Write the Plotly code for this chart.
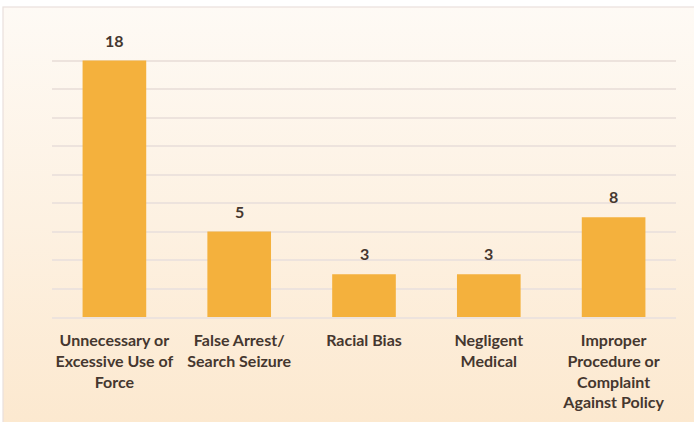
import base64
import plotly.graph_objects as go

categories = [
    "Unnecessary or<br>Excessive Use of<br>Force",
    "False Arrest/<br>Search Seizure",
    "Racial Bias",
    "Negligent<br>Medical",
    "Improper<br>Procedure or<br>Complaint<br>Against Policy",
]
bar_heights = [18, 6, 3, 3, 7]
data_labels = ["18", "5", "3", "3", "8"]
y_ticks = [0, 2, 4, 6, 8, 10, 12, 14, 16, 18, 20]

W, H = 694, 422
ml, mr, mt, mb = 52, 18, 32, 105
pw, ph = W - ml - mr, H - mt - mb
TXT = "#45372F"

svg = f'''<svg xmlns="http://www.w3.org/2000/svg" width="{W}" height="{H}" viewBox="0 0 {W} {H}">
<defs><linearGradient id="g" x1="0" y1="0" x2="0" y2="1">
<stop offset="0" stop-color="#FEFAF5"/><stop offset="1" stop-color="#FCE8CE"/></linearGradient></defs>
<rect x="0" y="0" width="{W}" height="{H}" fill="#FFFFFF"/>
<rect x="3" y="7" width="{W+10}" height="{H+10}" fill="url(#g)" stroke="#E9E0DC" stroke-width="1.2"/>
</svg>'''
src = "data:image/svg+xml;base64," + base64.b64encode(svg.encode()).decode()

fig = go.Figure(
    go.Bar(
        x=categories,
        y=bar_heights,
        marker=dict(color="#F4B13D", line=dict(width=0)),
        hoverinfo="skip",
    )
)

for cat, h, lab in zip(categories, bar_heights, data_labels):
    fig.add_annotation(
        x=cat, y=h, text=lab, showarrow=False,
        yanchor="bottom", yshift=9,
        font=dict(family="Lato", size=16, color=TXT, weight="bold"),
    )

fig.add_layout_image(
    source=src, xref="paper", yref="paper",
    x=-ml / pw, y=1 + mt / ph, sizex=W / pw, sizey=H / ph,
    xanchor="left", yanchor="top", sizing="stretch", layer="below",
)

fig.update_layout(
    width=W, height=H,
    margin=dict(l=ml, r=mr, t=mt, b=mb, pad=0),
    paper_bgcolor="rgba(0,0,0,0)",
    plot_bgcolor="rgba(0,0,0,0)",
    bargap=0.49,
    showlegend=False,
    font=dict(family="Lato", size=16, color=TXT),
)
fig.update_xaxes(
    showgrid=False, showline=True, linecolor="#EDE3DD", linewidth=1.5,
    ticks="outside", ticklen=8, tickcolor="rgba(0,0,0,0)",
    tickfont=dict(family="Lato", size=16, color=TXT, weight="bold"),
)
fig.update_yaxes(
    range=[0, 20], tickvals=y_ticks, showticklabels=False,
    showgrid=True, gridcolor="#EDE3DD", gridwidth=1.5, zeroline=False,
)

fig.write_html("out.html")
